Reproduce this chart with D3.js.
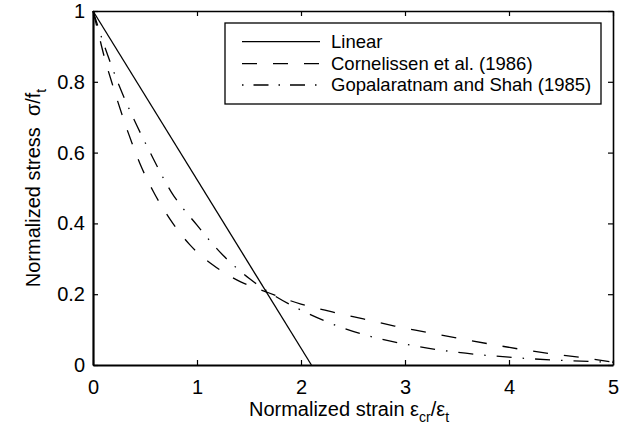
<!DOCTYPE html>
<html>
<head>
<meta charset="utf-8">
<script src="https://cdn.jsdelivr.net/npm/d3@7/dist/d3.min.js"></script>
<style>
  html, body { margin: 0; padding: 0; background: #fff; }
  svg { display: block; font-family: "Liberation Sans", Arial, Helvetica, sans-serif; }
</style>
</head>
<body>
<svg id="chart" width="619" height="437"></svg>
<script>
// ---- data ----
const xTicks = [0, 1, 2, 3, 4, 5];
const yTicks = [0, 0.2, 0.4, 0.6, 0.8, 1];
const yTickLabels = ["0", "0.2", "0.4", "0.6", "0.8", "1"];

const linearX = [0, 2.1];
const linearY = [1, 0];

const cornelissenX = [0, 0.05, 0.1, 0.2, 0.34, 0.45, 0.58, 0.74, 0.93, 1.16, 1.42, 1.67, 2.0, 2.3, 2.6, 2.9, 3.2, 3.5, 3.8, 4.1, 4.4, 4.7, 5.0];
const cornelissenY = [1, 0.94, 0.88, 0.78, 0.655, 0.57, 0.49, 0.412, 0.34, 0.281, 0.235, 0.206, 0.172, 0.150, 0.130, 0.110, 0.093, 0.076, 0.060, 0.045, 0.032, 0.021, 0.008];

const gopalX = [0, 0.1, 0.25, 0.4, 0.55, 0.75, 1.0, 1.25, 1.5, 1.75, 2.0, 2.5, 3.0, 3.5, 4.0, 4.5, 5.0];
const gopalY = [1, 0.91, 0.79, 0.69, 0.60, 0.49, 0.395, 0.31, 0.245, 0.195, 0.155, 0.095, 0.059, 0.036, 0.022, 0.013, 0.008];

const seriesNames = ["Linear", "Cornelissen et al. (1986)", "Gopalaratnam and Shah (1985)"];

// ---- layout ----
const svg = d3.select("#chart");
const pLeft = 93, pRight = 613, pTop = 11, pBottom = 365;
const x = d3.scaleLinear().domain([0, 5]).range([pLeft, pRight]);
const y = d3.scaleLinear().domain([0, 1]).range([pBottom, pTop]);
const FONT = 20;

// bottom axis
const gx = svg.append("g").attr("transform", `translate(0,${pBottom})`)
  .call(d3.axisBottom(x).tickValues(xTicks).tickFormat(d3.format("d")).tickSize(-5).tickPadding(15).tickSizeOuter(0));
// top axis (ticks only)
const gxt = svg.append("g").attr("transform", `translate(0,${pTop})`)
  .call(d3.axisTop(x).tickValues(xTicks).tickFormat("").tickSize(-5).tickSizeOuter(0));
// left axis
const gy = svg.append("g").attr("transform", `translate(${pLeft},0)`)
  .call(d3.axisLeft(y).tickValues(yTicks).tickFormat((d, i) => yTickLabels[i]).tickSize(-5).tickPadding(8).tickSizeOuter(0));
// right axis (ticks only)
const gyr = svg.append("g").attr("transform", `translate(${pRight},0)`)
  .call(d3.axisRight(y).tickValues(yTicks).tickFormat("").tickSize(-5).tickSizeOuter(0));

[gx, gxt, gy, gyr].forEach(g => {
  g.selectAll("path.domain").attr("stroke", "#000").attr("stroke-width", 1.6);
  g.selectAll(".tick line").attr("stroke", "#000").attr("stroke-width", 1.2);
  g.selectAll(".tick text").attr("fill", "#000").attr("font-size", FONT)
    .attr("font-family", "'Liberation Sans', Arial, Helvetica, sans-serif");
});
gx.select("path.domain").attr("stroke-width", 2.2);
gy.select("path.domain").attr("stroke-width", 2.2);

// lines
const line = d3.line().x(d => x(d[0])).y(d => y(d[1])).curve(d3.curveMonotoneX);
const lineStraight = d3.line().x(d => x(d[0])).y(d => y(d[1]));
const plot = svg.append("g");

plot.append("path").datum(linearX.map((v, i) => [v, linearY[i]]))
  .attr("d", lineStraight).attr("fill", "none").attr("stroke", "#000").attr("stroke-width", 1.3);
plot.append("path").datum(cornelissenX.map((v, i) => [v, cornelissenY[i]]))
  .attr("d", line).attr("fill", "none").attr("stroke", "#000").attr("stroke-width", 1.3)
  .attr("stroke-dasharray", "15,16");
plot.append("path").datum(gopalX.map((v, i) => [v, gopalY[i]]))
  .attr("d", line).attr("fill", "none").attr("stroke", "#000").attr("stroke-width", 1.3)
  .attr("stroke-dasharray", "15,11,1.5,11");

// legend
const lg = svg.append("g");
lg.append("rect").attr("x", 225).attr("y", 23).attr("width", 376).attr("height", 81)
  .attr("fill", "#fff").attr("stroke", "#000").attr("stroke-width", 1.3);
const rowsY = [41.7, 63.7, 85];
const dashes = [null, "15,16", "1.5,10,15,10"];
seriesNames.forEach((name, i) => {
  const l = lg.append("line").attr("x1", 242).attr("x2", 320).attr("y1", rowsY[i]).attr("y2", rowsY[i])
    .attr("stroke", "#000").attr("stroke-width", 1.3);
  if (dashes[i]) l.attr("stroke-dasharray", dashes[i]);
  lg.append("text").attr("x", 331).attr("y", rowsY[i]).attr("dy", "0.35em")
    .attr("font-size", 18.5).attr("fill", "#000").text(name);
});

// x label
const xl = svg.append("text").attr("x", 349).attr("y", 416).attr("text-anchor", "middle")
  .attr("font-size", FONT).attr("fill", "#000");
xl.append("tspan").text("Normalized strain ε");
xl.append("tspan").attr("font-size", 14).attr("dy", 6).text("cr");
xl.append("tspan").attr("dy", -6).text("/ε");
xl.append("tspan").attr("font-size", 14).attr("dy", 6).text("t");

// y label
const yl = svg.append("text").attr("transform", "translate(40,188) rotate(-90)")
  .attr("text-anchor", "middle").attr("font-size", FONT).attr("fill", "#000");
yl.append("tspan").text("Normalized stress\u00A0\u00A0σ/f");
yl.append("tspan").attr("font-size", 14).attr("dy", 6).text("t");
</script>
</body>
</html>
